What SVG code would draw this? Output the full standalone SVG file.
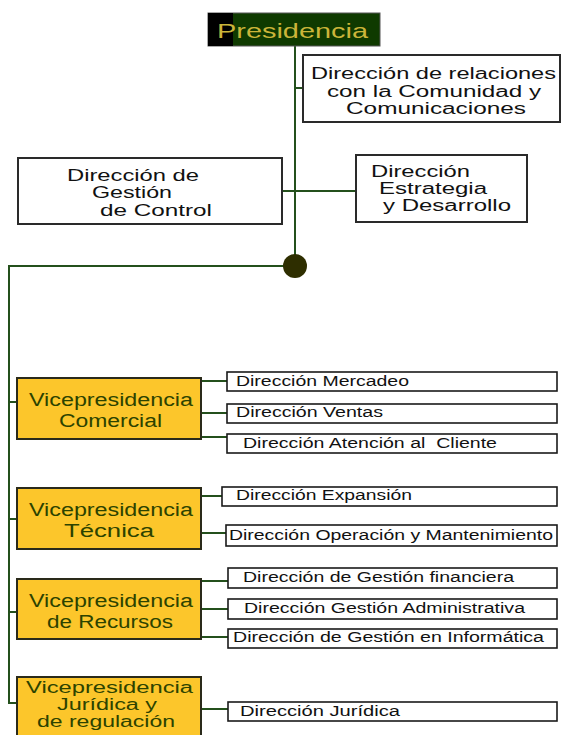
<svg xmlns="http://www.w3.org/2000/svg" width="562" height="735" viewBox="0 0 562 735">
<style>
text{font-family:"Liberation Sans",Arial,sans-serif;}
.box{fill:#fff;stroke:#2a2a2a;stroke-width:2;}
.sub{fill:#fff;stroke:#1a1a1a;stroke-width:1.6;}
.vp{fill:#fcc62b;stroke:#2a2a1a;stroke-width:2;}
.t16{font-size:16px;fill:#111;}
.t14{font-size:14px;fill:#111;}
.vt{font-size:18px;fill:#2c4300;}
.vs{font-size:16px;fill:#2c4300;}
.ln{stroke:#24501c;stroke-width:2;fill:none;}
</style>
<rect width="562" height="735" fill="#fff"/>
<g id="connectors">
<path class="ln" d="M295 46V266"/>
<path class="ln" d="M295 88H303"/>
<path class="ln" d="M282 191H356"/>
<path class="ln" d="M295 266H9V703H17"/>
<path class="ln" d="M9 402H17M9 519H17M9 612H17"/>
<path class="ln" d="M201 381H227M201 413H227M201 437H227"/>
<path class="ln" d="M201 496H222M201 533H226"/>
<path class="ln" d="M201 581H228M201 609H228M201 637H228"/>
<path class="ln" d="M201 709H228"/>
<circle cx="295" cy="266" r="12" fill="#2e2e00"/>
</g>
<g id="presidencia">
<rect x="208" y="13" width="172" height="33" fill="#0f3a00" stroke="#555" stroke-width="1"/>
<rect x="208" y="13" width="25" height="33" fill="#000"/>
<text x="217" y="38" font-size="21" fill="#cbb53a" textLength="151" lengthAdjust="spacingAndGlyphs">Presidencia</text>
</g>
<g id="relaciones">
<rect class="box" x="303" y="55" width="257" height="67"/>
<text class="t16" x="311" y="79" textLength="245" lengthAdjust="spacingAndGlyphs">Dirección de relaciones</text>
<text class="t16" x="327" y="97" textLength="214" lengthAdjust="spacingAndGlyphs">con la Comunidad y</text>
<text class="t16" x="346" y="114" textLength="180" lengthAdjust="spacingAndGlyphs">Comunicaciones</text>
</g>
<g id="control">
<rect class="box" x="18" y="158" width="264" height="66"/>
<text class="t16" x="67" y="181" textLength="132" lengthAdjust="spacingAndGlyphs">Dirección de</text>
<text class="t16" x="92" y="198" textLength="80" lengthAdjust="spacingAndGlyphs">Gestión</text>
<text class="t16" x="100" y="216" textLength="112" lengthAdjust="spacingAndGlyphs">de Control</text>
</g>
<g id="estrategia">
<rect class="box" x="356" y="155" width="171" height="67"/>
<text class="t16" x="371" y="177" textLength="99" lengthAdjust="spacingAndGlyphs">Dirección</text>
<text class="t16" x="379" y="194" textLength="108" lengthAdjust="spacingAndGlyphs">Estrategia</text>
<text class="t16" x="383" y="211" textLength="128" lengthAdjust="spacingAndGlyphs">y Desarrollo</text>
</g>
<g id="vp-comercial">
<rect class="vp" x="17" y="378" width="184" height="61"/>
<text class="vt" x="29" y="406" textLength="164" lengthAdjust="spacingAndGlyphs">Vicepresidencia</text>
<text class="vt" x="59" y="427" textLength="103" lengthAdjust="spacingAndGlyphs">Comercial</text>
</g>
<g id="mercadeo">
<rect class="sub" x="227" y="372" width="330" height="19"/>
<text class="t14" x="236" y="386" textLength="173" lengthAdjust="spacingAndGlyphs">Dirección Mercadeo</text>
</g>
<g id="ventas">
<rect class="sub" x="227" y="404" width="330" height="19"/>
<text class="t14" x="236" y="417" textLength="147" lengthAdjust="spacingAndGlyphs">Dirección Ventas</text>
</g>
<g id="atencion">
<rect class="sub" x="227" y="434" width="330" height="19"/>
<text class="t14" x="243" y="448" textLength="254" lengthAdjust="spacingAndGlyphs" xml:space="preserve">Dirección Atención al  Cliente</text>
</g>
<g id="vp-tecnica">
<rect class="vp" x="17" y="488" width="184" height="61"/>
<text class="vt" x="29" y="516" textLength="164" lengthAdjust="spacingAndGlyphs">Vicepresidencia</text>
<text class="vt" x="64" y="537" textLength="90" lengthAdjust="spacingAndGlyphs">Técnica</text>
</g>
<g id="expansion">
<rect class="sub" x="222" y="487" width="335" height="19"/>
<text class="t14" x="236" y="500" textLength="176" lengthAdjust="spacingAndGlyphs">Dirección Expansión</text>
</g>
<g id="operacion">
<rect class="sub" x="226" y="525" width="331" height="21"/>
<text class="t14" x="229" y="540" textLength="324" lengthAdjust="spacingAndGlyphs">Dirección Operación y Mantenimiento</text>
</g>
<g id="vp-recursos">
<rect class="vp" x="17" y="579" width="184" height="60"/>
<text class="vt" x="29" y="607" textLength="164" lengthAdjust="spacingAndGlyphs">Vicepresidencia</text>
<text class="vt" x="47" y="628" textLength="126" lengthAdjust="spacingAndGlyphs">de Recursos</text>
</g>
<g id="financiera">
<rect class="sub" x="228" y="568" width="329" height="20"/>
<text class="t14" x="243" y="582" textLength="271" lengthAdjust="spacingAndGlyphs">Dirección de Gestión financiera</text>
</g>
<g id="administrativa">
<rect class="sub" x="228" y="599" width="329" height="20"/>
<text class="t14" x="244" y="613" textLength="281" lengthAdjust="spacingAndGlyphs">Dirección Gestión Administrativa</text>
</g>
<g id="informatica">
<rect class="sub" x="228" y="629" width="329" height="19"/>
<text class="t14" x="233" y="642" textLength="311" lengthAdjust="spacingAndGlyphs">Dirección de Gestión en Informática</text>
</g>
<g id="vp-juridica">
<rect class="vp" x="17" y="677" width="184" height="70"/>
<text class="vs" x="26" y="693" textLength="167" lengthAdjust="spacingAndGlyphs">Vicepresidencia</text>
<text class="vs" x="57" y="710" textLength="100" lengthAdjust="spacingAndGlyphs">Jurídica y</text>
<text class="vs" x="37" y="727" textLength="138" lengthAdjust="spacingAndGlyphs">de regulación</text>
</g>
<g id="juridica">
<rect class="sub" x="228" y="702" width="329" height="19"/>
<text class="t14" x="240" y="716" textLength="160" lengthAdjust="spacingAndGlyphs">Dirección Jurídica</text>
</g>
</svg>
